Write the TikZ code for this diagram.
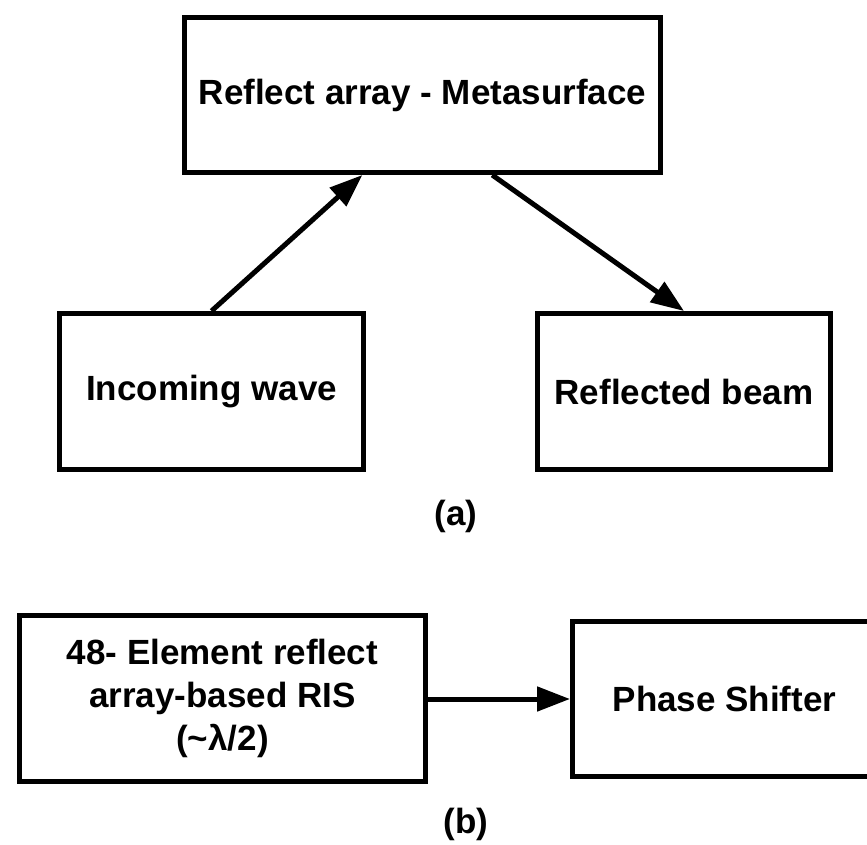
\documentclass[tikz,border=0pt]{standalone}
\usepackage{fontspec}
\setmainfont{Liberation Sans}
\usetikzlibrary{arrows.meta,calc}
\tikzset{
  blockbox/.style={draw, line width=5pt, line join=miter, inner sep=0pt,
    align=center, font=\bfseries\fontsize{35}{43}\selectfont},
  link/.style={line width=5pt, -{Triangle[length=33pt,width=24pt]}},
  caption/.style={font=\bfseries\fontsize{35}{42}\selectfont}
}
\begin{document}
\begin{tikzpicture}[x=1pt,y=-1pt]
  \useasboundingbox (0,0) rectangle (867,845);
  \begin{scope}
    \clip (0,0) rectangle (867,845);
    % part (a)
    \node[blockbox, minimum width=476pt, minimum height=155pt] (meta) at (422.5,95) {Reflect array - Metasurface};
    \node[blockbox, minimum width=304pt, minimum height=156pt] (inc) at (211.5,391.5) {Incoming wave};
    \node[blockbox, minimum width=293pt, minimum height=156pt] (refl) at (684,391.5) {Reflected beam};
    \node[caption] (capa) at (456,516) {(a)};
    \draw[link] (inc.north) -- ($(meta.south west)!0.375!(meta.south east)$);
    \draw[link] ($(meta.south west)!0.645!(meta.south east)$) -- (refl.north);
    % part (b)
    \node[blockbox, minimum width=406pt, minimum height=166pt] (ris) at (222.5,698.5) {48- Element reflect\\array-based RIS\\(\textasciitilde λ/2)};
    \node[blockbox, minimum width=304pt, minimum height=155pt] (phase) at (724.5,699) {Phase Shifter};
    \node[caption] (capb) at (466,824) {(b)};
    \draw[link] (ris.east |- phase.west) -- (phase.west);
  \end{scope}
\end{tikzpicture}
\end{document}
